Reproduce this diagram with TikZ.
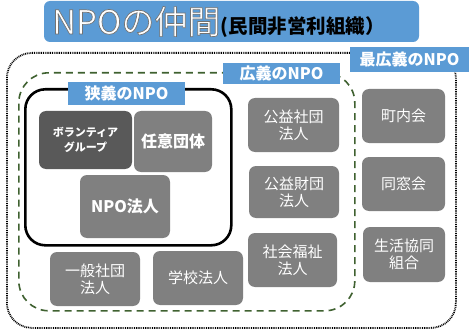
\documentclass[tikz,border=0pt]{standalone}
\usepackage{fontspec}
\setmainfont{Noto Sans CJK JP}
\usetikzlibrary{positioning}
\definecolor{npoblue}{HTML}{5B9BD5}
\definecolor{boxgray}{HTML}{808080}
\definecolor{boxdark}{HTML}{595959}
\definecolor{dgreen}{HTML}{3F6130}
\newcommand{\outlinetext}[1]{\special{pdf:literal direct 2 Tr 0.7 w 0.45 0.45 0.45 RG}#1\special{pdf:literal direct 0 Tr}}
\tikzset{
  org/.style={fill=boxgray, rounded corners=7pt, text=white, align=center, inner sep=0pt, font=\fontsize{15}{17}\selectfont},
  orgbold/.style={org, font=\bfseries\fontsize{16}{18}\selectfont},
  tag/.style={fill=npoblue, text=white, inner sep=0pt, font=\bfseries\fontsize{16}{18}\selectfont},
  frame/.style={rounded corners=#1, inner sep=0pt, anchor=north west},
}
\begin{document}
\begin{tikzpicture}[x=1pt,y=-1pt]
\useasboundingbox (0,0) rectangle (469,329);
\fill[white] (0,0) rectangle (469,329);
% title
\node[fill=npoblue, rounded corners=6pt, minimum width=375pt, minimum height=41pt, inner sep=0pt] (title) at (231.5,21.5) {};
\node[anchor=base west, inner sep=0pt, text=white, font=\fontsize{33}{35}\selectfont] (titlemain) at (52,34) {\outlinetext{NPOの仲間}};
\node[anchor=base west, inner sep=0pt, text=black, font=\bfseries\fontsize{19.5}{21}\selectfont] (titlesub) at (titlemain.base east) {(民間非営利組織）};
% containers
\node[frame=25pt, draw=black, line width=1.8pt, dash pattern=on 0.9pt off 0.9pt, minimum width=449pt, minimum height=275pt] (outer) at (6,52) {};
\node[frame=30pt, draw=dgreen, line width=1.6pt, dash pattern=on 7pt off 5pt, minimum width=336pt, minimum height=238pt] (broad) at (18,72) {};
\node[frame=20pt, draw=black, line width=2.6pt, minimum width=206pt, minimum height=156pt] (narrow) at (24,88) {};
% labels
\node[tag, minimum width=119pt, minimum height=25pt] (saikougi) at (409.5,59.5) {最広義のNPO};
\node[tag, minimum width=117pt, minimum height=21pt] (kougi) at (281.5,73.5) {広義のNPO};
\node[tag, minimum width=117pt, minimum height=23pt] (kyougi) at (126.5,93.5) {狭義のNPO};
% narrow boxes
\node[org, fill=boxdark, minimum width=93pt, minimum height=58pt, font=\bfseries\fontsize{11}{15}\selectfont] (vol) at (85.5,140) {ボランティア\\グループ};
\node[orgbold, minimum width=78pt, minimum height=61pt] (nini) at (173,141.5) {任意団体};
\node[orgbold, minimum width=90pt, minimum height=63pt] (npo) at (125,206.5) {NPO法人};
% broad boxes
\node[org, minimum width=91pt, minimum height=54pt] (kshadan) at (293.5,125) {公益社団\\法人};
\node[org, minimum width=90pt, minimum height=52pt] (kzaidan) at (294,192) {公益財団\\法人};
\node[org, minimum width=89pt, minimum height=54pt] (shakai) at (292.5,260) {社会福祉\\法人};
\node[org, minimum width=90pt, minimum height=54pt] (ippan) at (95,279) {一般社団\\法人};
\node[org, minimum width=90pt, minimum height=54pt] (gakko) at (198,278) {学校法人};
% broadest boxes
\node[org, minimum width=83pt, minimum height=54pt] (chonai) at (403.5,116) {町内会};
\node[org, minimum width=83pt, minimum height=54pt] (dousou) at (403.5,184) {同窓会};
\node[org, minimum width=82pt, minimum height=55pt] (seikyo) at (404,254.5) {生活協同\\組合};
\end{tikzpicture}
\end{document}
